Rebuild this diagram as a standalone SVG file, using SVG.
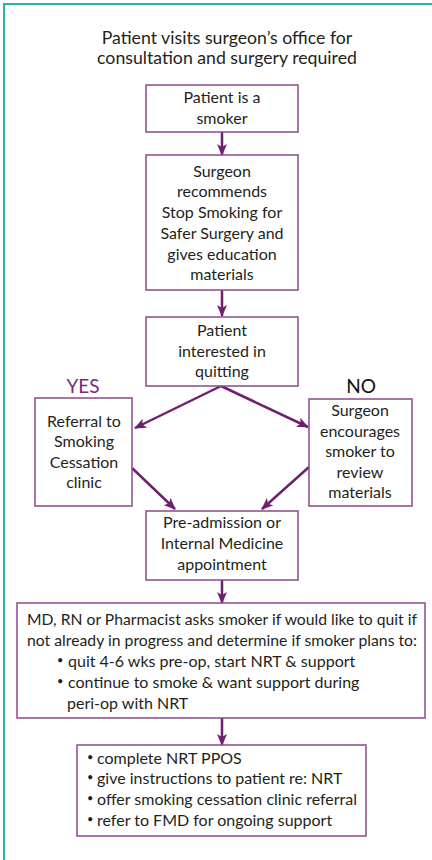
<svg xmlns="http://www.w3.org/2000/svg" width="432" height="860" viewBox="0 0 432 860">
<style>
.frame{stroke:#2bb3a9;stroke-width:2;fill:none}
.box{fill:#fff;stroke:#8b4a8b;stroke-width:1.5}
.t{font-family:Lato,"Noto Sans","DejaVu Sans",sans-serif;font-size:16px;fill:#231f20;text-anchor:middle}
.title{font-size:17.7px}
.l{text-anchor:start}
.yes{font-family:Lato,"Noto Sans",sans-serif;font-size:19px;fill:#7b2a7b;text-anchor:middle}
.no{font-family:Lato,"Noto Sans",sans-serif;font-size:19px;fill:#111;text-anchor:middle}
.c{stroke:#6e1f6e;stroke-width:2.5;fill:none;marker-end:url(#ah)}
.b{font-family:Lato,"Noto Sans",sans-serif;font-size:11px;fill:#231f20}
</style>
<defs>
<marker id="ah" markerUnits="userSpaceOnUse" markerWidth="12" markerHeight="10" viewBox="0 0 12 10" refX="11" refY="5" orient="auto">
<path d="M0,0 L12,5 L0,10 L3,5 z" fill="#6e1f6e"/>
</marker>
</defs>
<rect width="432" height="860" fill="#fff"/>
<path class="frame" d="M4,860 V4 H432"/>
<g id="title"><text class="t title" x="227" y="44">Patient visits surgeon’s office for</text><text class="t title" x="227" y="64">consultation and surgery required</text></g>
<g id="connectors">
<line class="c" x1="222" y1="132" x2="222" y2="155"/>
<line class="c" x1="222" y1="290" x2="222" y2="316"/>
<line class="c" x1="221" y1="386" x2="135" y2="428"/>
<line class="c" x1="221" y1="386" x2="308" y2="427"/>
<line class="c" x1="132" y1="468" x2="175" y2="509"/>
<line class="c" x1="309" y1="467" x2="262" y2="509"/>
<line class="c" x1="222" y1="580" x2="222" y2="603"/>
<line class="c" x1="222" y1="718" x2="222" y2="745"/>
</g>
<g id="n1"><rect class="box" x="146" y="85" width="152" height="47"/><text class="t" x="222" y="103">Patient is a</text><text class="t" x="222" y="124">smoker</text></g>
<g id="n2"><rect class="box" x="146" y="155" width="152" height="135"/>
<text class="t" x="222" y="177">Surgeon</text><text class="t" x="222" y="197">recommends</text><text class="t" x="222" y="218">Stop Smoking for</text><text class="t" x="222" y="239">Safer Surgery and</text><text class="t" x="222" y="260">gives education</text><text class="t" x="222" y="280">materials</text></g>
<g id="n3"><rect class="box" x="146" y="317" width="152" height="69"/>
<text class="t" x="222" y="336">Patient</text><text class="t" x="222" y="357">interested in</text><text class="t" x="222" y="377">quitting</text></g>
<g id="yes"><text class="yes" x="83" y="393">YES</text></g>
<g id="no"><text class="no" x="361" y="393">NO</text></g>
<g id="n4"><rect class="box" x="35" y="398" width="97" height="108"/>
<text class="t" x="84" y="427">Referral to</text><text class="t" x="84" y="447">Smoking</text><text class="t" x="84" y="468">Cessation</text><text class="t" x="84" y="488">clinic</text></g>
<g id="n5"><rect class="box" x="309" y="399" width="103" height="107"/>
<text class="t" x="360" y="416">Surgeon</text><text class="t" x="360" y="437">encourages</text><text class="t" x="360" y="457">smoker to</text><text class="t" x="360" y="478">review</text><text class="t" x="360" y="498">materials</text></g>
<g id="n6"><rect class="box" x="146" y="511" width="152" height="69"/>
<text class="t" x="222" y="528">Pre-admission or</text><text class="t" x="222" y="549">Internal Medicine</text><text class="t" x="222" y="570">appointment</text></g>
<g id="n7"><rect class="box" x="17" y="603" width="408" height="115"/>
<text class="t l" x="27" y="625" textLength="390" lengthAdjust="spacingAndGlyphs">MD, RN or Pharmacist asks smoker if would like to quit if</text>
<text class="t l" x="27" y="646" textLength="390" lengthAdjust="spacingAndGlyphs">not already in progress and determine if smoker plans to:</text>
<text class="b" x="57" y="664">•</text><text class="t l" x="68" y="667">quit 4-6 wks pre-op, start NRT &amp; support</text>
<text class="b" x="57" y="685">•</text><text class="t l" x="68" y="688">continue to smoke &amp; want support during</text>
<text class="t l" x="67" y="709">peri-op with NRT</text></g>
<g id="n8"><rect class="box" x="77" y="745" width="289" height="91"/>
<text class="b" x="87" y="761">•</text><text class="t l" x="97" y="764">complete NRT PPOS</text>
<text class="b" x="87" y="781">•</text><text class="t l" x="97" y="784">give instructions to patient re: NRT</text>
<text class="b" x="87" y="802">•</text><text class="t l" x="97" y="805">offer smoking cessation clinic referral</text>
<text class="b" x="87" y="823">•</text><text class="t l" x="97" y="826">refer to FMD for ongoing support</text></g>
</svg>
